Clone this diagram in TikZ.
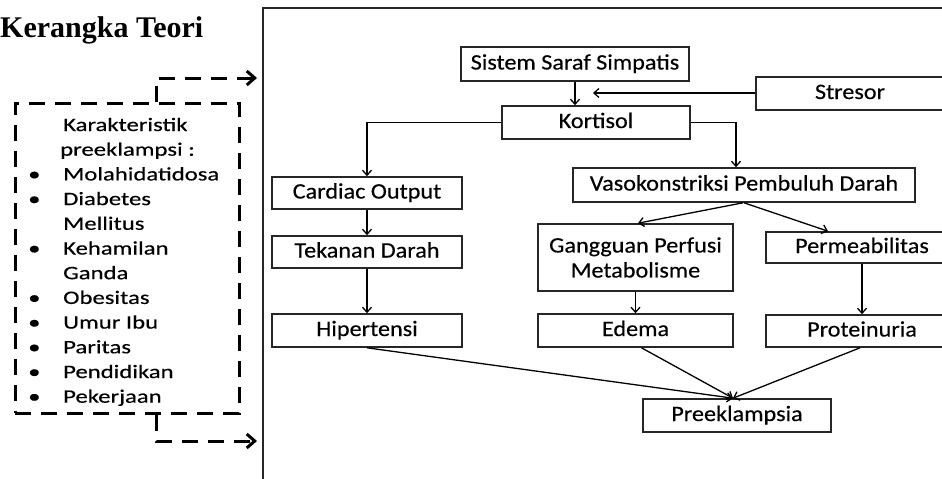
\documentclass[tikz,border=0pt]{standalone}
\usepackage{fontspec}
\usetikzlibrary{arrows.meta}
\newfontfamily\boxfont[FakeStretch=1.1,FakeBold=0.4]{Carlito}
\newfontfamily\listfont[FakeStretch=1.3,FakeBold=0.4]{Carlito}
\newfontfamily\titlefont{Liberation Serif}
\begin{document}
\begin{tikzpicture}[x=1pt,y=-1pt,
  box/.style={draw=black!85,line width=1.6pt,inner sep=0pt,align=center,
    font=\boxfont\fontsize{22}{25}\selectfont},
  one/.style={text height=15pt,text depth=4pt},
  conn/.style={line width=1.3pt,-{Straight Barb[length=5pt,width=9pt]}},
  frame/.style={line width=1.8pt,draw=black!85},
  dashbox/.style={draw,line width=3pt,dash pattern=on 16pt off 10pt,inner sep=0pt},
  dasharrow/.style={line width=3pt,dash pattern=on 16pt off 10pt,
    -{Straight Barb[length=8pt,width=14pt]}},
  listtxt/.style={anchor=base west,inner sep=0pt,font=\listfont\fontsize{19}{22}\selectfont},
  bullet/.style={anchor=base west,inner sep=0pt,font=\listfont\fontsize{19}{22}\selectfont}
]
\clip (0,0) rectangle (942,479);
% title
\node[anchor=base west,inner sep=0pt,font=\titlefont\bfseries\fontsize{30}{34}\selectfont] (title) at (0,37) {Kerangka Teori};
% outer frame
\draw[frame] (263,490) -- (263,8) -- (960,8);
% boxes
\node[box,one,minimum width=228pt,minimum height=34pt] (sis) at (575,64) {Sistem Saraf Simpatis};
\node[box,one,minimum width=188pt,minimum height=33pt] (stres) at (850,93.5) {Stresor};
\node[box,one,minimum width=188pt,minimum height=33pt] (kort) at (596,122.5) {Kortisol};
\node[box,one,minimum width=190pt,minimum height=32pt] (card) at (367,193) {Cardiac Output};
\node[box,one,minimum width=342pt,minimum height=34pt] (vaso) at (744,185) {Vasokonstriksi Pembuluh Darah};
\node[box,one,minimum width=190pt,minimum height=32pt] (tek) at (367,252) {Tekanan Darah};
\node[box,minimum width=195pt,minimum height=67pt] (gang) at (635.5,257.5) {Gangguan Perfusi\\[0pt]Metabolisme};
\node[box,one,minimum width=192pt,minimum height=31pt] (perm) at (862,247.5) {Permeabilitas};
\node[box,one,minimum width=190pt,minimum height=33pt] (hip) at (367,330.5) {Hipertensi};
\node[box,one,minimum width=195pt,minimum height=33pt] (edema) at (635.5,330.5) {Edema};
\node[box,one,minimum width=192pt,minimum height=32pt] (prot) at (862,331) {Proteinuria};
\node[box,one,minimum width=188pt,minimum height=33pt] (pre) at (737,415.5) {Preeklampsia};
% connectors
\coordinate (stresend) at (593,93);
\draw[conn] (sis.south) -- (sis.south |- kort.north);
\draw[conn] (stres.west |- stresend) -- (stresend);
\draw[conn] (kort.west) -| (card.north);
\draw[conn] (kort.east) -| ([xshift=-8pt]vaso.north);
\draw[conn] (card.south) -- (tek.north);
\draw[conn] (tek.south) -- (hip.north);
\draw[conn] ([xshift=-1pt]vaso.south) -- ([xshift=2.5pt]gang.north);
\draw[conn] (vaso.south) -- ([xshift=-34pt]perm.north);
\draw[conn] (gang.south) -- (edema.north);
\draw[conn] (perm.south) -- (prot.north);
\draw[conn] (hip.south) -- ([xshift=-4pt]pre.north);
\draw[conn] ([xshift=6pt]edema.south) -- ([xshift=-4pt]pre.north);
\draw[conn] ([xshift=-2pt]prot.south) -- ([xshift=-4pt]pre.north);
% dashed characteristics box
\node[dashbox,minimum width=224pt,minimum height=310pt] (dbox) at (127,258) {};
\coordinate (ta) at (257,78);
\coordinate (ba) at (257,441);
\draw[dasharrow] ([xshift=29pt]dbox.north) |- (ta);
\draw[dasharrow] ([xshift=29pt]dbox.south) |- (ba);
% list text
\node[listtxt] (l1) at (63,131) {Karakteristik};
\node[listtxt] (l2) at (60,155.7) {preeklampsi :};
\node[listtxt] (l3) at (63,180.4) {Molahidatidosa};
\node[listtxt] (l4) at (63,205.1) {Diabetes};
\node[listtxt] (l5) at (63,229.8) {Mellitus};
\node[listtxt] (l6) at (63,254.5) {Kehamilan};
\node[listtxt] (l7) at (63,279.2) {Ganda};
\node[listtxt] (l8) at (63,303.9) {Obesitas};
\node[listtxt] (l9) at (63,328.6) {Umur Ibu};
\node[listtxt] (l10) at (63,353.3) {Paritas};
\node[listtxt] (l11) at (63,378) {Pendidikan};
\node[listtxt] (l12) at (63,402.7) {Pekerjaan};
\node[bullet] (b3) at (28,180.4) {•};
\node[bullet] (b4) at (28,205.1) {•};
\node[bullet] (b6) at (28,254.5) {•};
\node[bullet] (b8) at (28,303.9) {•};
\node[bullet] (b9) at (28,328.6) {•};
\node[bullet] (b10) at (28,353.3) {•};
\node[bullet] (b11) at (28,378) {•};
\node[bullet] (b12) at (28,402.7) {•};
\end{tikzpicture}
\end{document}
